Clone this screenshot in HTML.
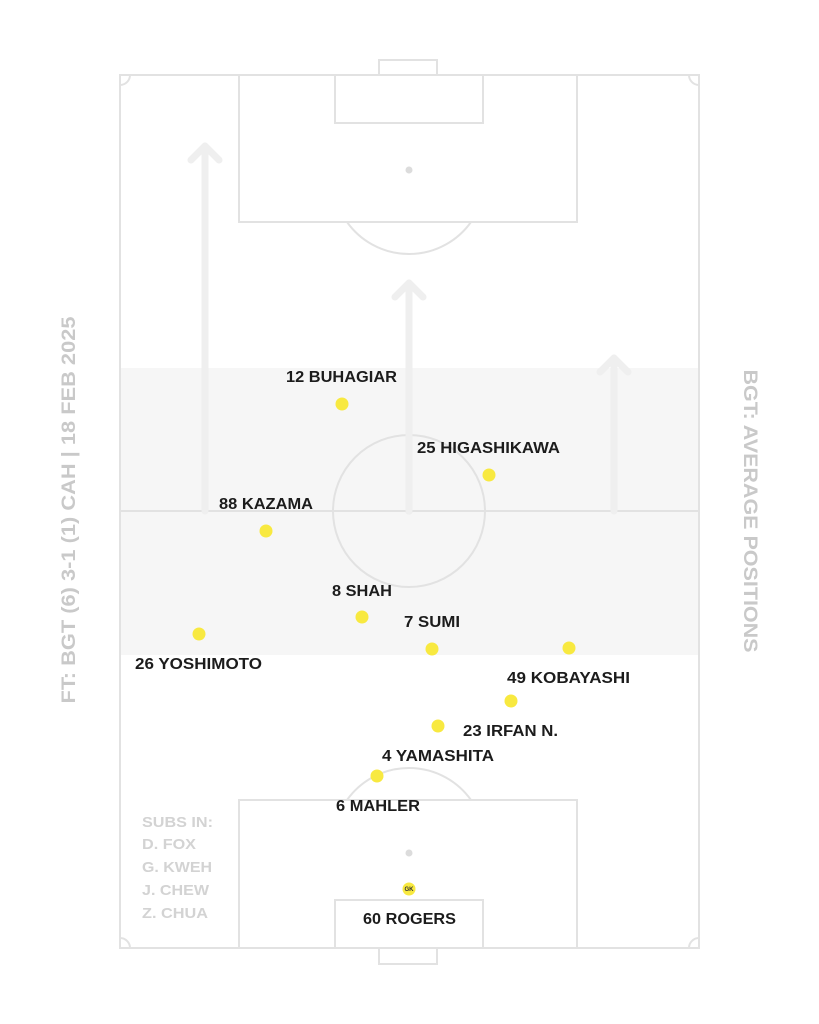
<!DOCTYPE html>
<html><head><meta charset="utf-8"><style>
html,body{margin:0;padding:0;background:#fff;}
svg{display:block;}
text{font-family:"Liberation Sans",sans-serif;font-weight:bold;}
</style></head><body>
<svg width="819" height="1024" viewBox="0 0 819 1024" xmlns="http://www.w3.org/2000/svg">
<rect x="0" y="0" width="819" height="1024" fill="#fff"/>
<rect x="120" y="368" width="579" height="287" fill="#f6f6f6"/>
<g fill="none" stroke="#e2e2e2" stroke-width="2">
<rect x="120" y="75" width="579" height="873"/>
<line x1="120" y1="511" x2="699" y2="511"/>
<circle cx="409" cy="511" r="76"/>
<rect x="239" y="75" width="338" height="147"/>
<rect x="335" y="75" width="148" height="48"/>
<rect x="379" y="60" width="58" height="15"/>
<path d="M347 222 A76 76 0 0 0 471 222"/>
<rect x="239" y="800" width="338" height="148"/>
<rect x="335" y="900" width="148" height="48"/>
<rect x="379" y="948" width="58" height="16"/>
<path d="M347 800 A76 76 0 0 1 471 800"/>
<path d="M120 85 A10 10 0 0 0 130 75"/>
<path d="M689 75 A10 10 0 0 0 699 85"/>
<path d="M120 938 A10 10 0 0 1 130 948"/>
<path d="M689 948 A10 10 0 0 1 699 938"/>
</g>
<g fill="#dcdcdc"><circle cx="409" cy="170" r="3.5"/><circle cx="409" cy="853" r="3.5"/><circle cx="409" cy="511" r="3.5"/></g>
<g fill="none" stroke="#efefef" stroke-width="7" stroke-linecap="round" stroke-linejoin="round">
<path d="M205 511 V146 M191 160 L205 146 L219 160"/>
<path d="M409 511 V283 M395 297 L409 283 L423 297"/>
<path d="M614 511 V358 M600 372 L614 358 L628 372"/>
</g>
<g fill="#f8e940">
<circle cx="342" cy="404" r="6.5"/><circle cx="489" cy="475" r="6.5"/><circle cx="266" cy="531" r="6.5"/>
<circle cx="362" cy="617" r="6.5"/><circle cx="432" cy="649" r="6.5"/><circle cx="199" cy="634" r="6.5"/>
<circle cx="569" cy="648" r="6.5"/><circle cx="511" cy="701" r="6.5"/><circle cx="438" cy="726" r="6.5"/>
<circle cx="377" cy="776" r="6.5"/><circle cx="409" cy="889" r="6.5"/>
</g>
<text x="409" y="891" font-size="6" fill="#333" text-anchor="middle">GK</text>
<g font-size="15.5" fill="#1c1c1c">
<text x="286" y="382" textLength="111" lengthAdjust="spacingAndGlyphs">12 BUHAGIAR</text>
<text x="417" y="453" textLength="143" lengthAdjust="spacingAndGlyphs">25 HIGASHIKAWA</text>
<text x="219" y="509" textLength="94" lengthAdjust="spacingAndGlyphs">88 KAZAMA</text>
<text x="332" y="596" textLength="60" lengthAdjust="spacingAndGlyphs">8 SHAH</text>
<text x="404" y="627" textLength="56" lengthAdjust="spacingAndGlyphs">7 SUMI</text>
<text x="135" y="669" textLength="127" lengthAdjust="spacingAndGlyphs">26 YOSHIMOTO</text>
<text x="507" y="683" textLength="123" lengthAdjust="spacingAndGlyphs">49 KOBAYASHI</text>
<text x="463" y="736" textLength="95" lengthAdjust="spacingAndGlyphs">23 IRFAN N.</text>
<text x="382" y="761" textLength="112" lengthAdjust="spacingAndGlyphs">4 YAMASHITA</text>
<text x="336" y="811" textLength="84" lengthAdjust="spacingAndGlyphs">6 MAHLER</text>
<text x="363" y="924" textLength="93" lengthAdjust="spacingAndGlyphs">60 ROGERS</text>
</g>
<g font-size="15" fill="#d3d3d3">
<text x="142" y="827" textLength="71" lengthAdjust="spacingAndGlyphs">SUBS IN:</text>
<text x="142" y="849" textLength="54" lengthAdjust="spacingAndGlyphs">D. FOX</text>
<text x="142" y="872" textLength="70" lengthAdjust="spacingAndGlyphs">G. KWEH</text>
<text x="142" y="895" textLength="67" lengthAdjust="spacingAndGlyphs">J. CHEW</text>
<text x="142" y="918" textLength="66" lengthAdjust="spacingAndGlyphs">Z. CHUA</text>
</g>
<text transform="translate(75,510) rotate(-90)" text-anchor="middle" font-size="19" fill="#c9c9c9" textLength="387" lengthAdjust="spacingAndGlyphs">FT: BGT (6) 3-1 (1) CAH | 18 FEB 2025</text>
<text transform="translate(744,511) rotate(90)" text-anchor="middle" font-size="19" fill="#c9c9c9" textLength="283" lengthAdjust="spacingAndGlyphs">BGT: AVERAGE POSITIONS</text>
</svg>
</body></html>
